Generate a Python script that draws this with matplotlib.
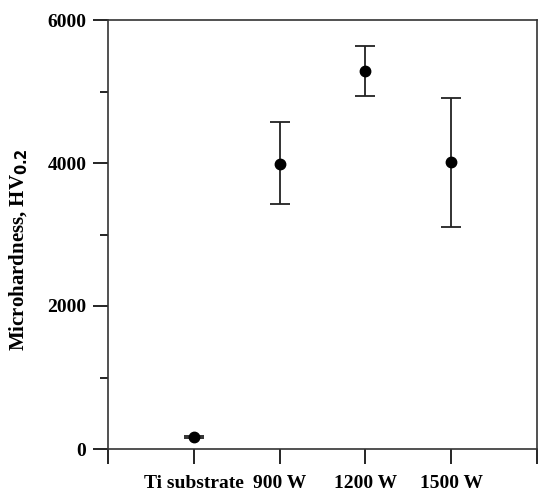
import numpy as np
import matplotlib.pyplot as plt
from matplotlib.ticker import MultipleLocator

plt.rcParams['font.family'] = ['Liberation Serif', 'DejaVu Serif']
plt.rcParams['font.weight'] = 'bold'

# data
labels = ['Ti substrate', '900 W', '1200 W', '1500 W']
xpos = [1, 2, 3, 4]
hardness = [165, 3980, 5290, 4010]
err_low = [12, 550, 355, 900]
err_high = [12, 590, 345, 895]

fig = plt.figure(figsize=(5.5, 4.97), dpi=100)
ax = fig.add_axes([108/550, 1-449/497, (537-108)/550, (449-20)/497])

ax.errorbar(xpos, hardness, yerr=[err_low, err_high], fmt='o', color='black',
            ecolor='#222222', markersize=7.5, elinewidth=1.3, capsize=7, capthick=1.3)

ax.set_xlim(0, 5)
ax.set_ylim(0, 6000)
ax.set_xticks([0, 1, 2, 3, 4, 5])
ax.set_xticklabels([''] + labels + [''])
ax.yaxis.set_major_locator(MultipleLocator(2000))
ax.yaxis.set_minor_locator(MultipleLocator(1000))
ax.tick_params(axis='both', which='major', direction='out', length=10.5, width=1.2,
               labelsize=14, pad=5)
ax.tick_params(axis='x', which='major', pad=8)
ax.tick_params(axis='y', which='minor', direction='out', length=5.5, width=1.2)
ax.tick_params(axis='x', which='minor', bottom=False)
for s in ax.spines.values():
    s.set_linewidth(1.2)
    s.set_color('#333333')

ax.set_ylabel('Microhardness, HV$_{\\mathbf{0.2}}$', fontsize=15, fontweight='bold')
ax.yaxis.set_label_coords(-0.181, 0.465)

fig.savefig('out.png', dpi=100)
